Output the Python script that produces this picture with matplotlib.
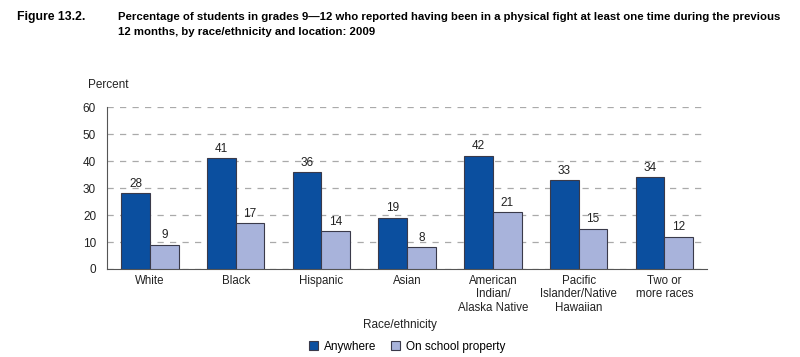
import matplotlib
matplotlib.use("Agg")
import matplotlib.pyplot as plt
import numpy as np

categories = ["White", "Black", "Hispanic", "Asian", "American\nIndian/\nAlaska Native",
              "Pacific\nIslander/Native\nHawaiian", "Two or\nmore races"]
anywhere = [28, 41, 36, 19, 42, 33, 34]
on_school = [9, 17, 14, 8, 21, 15, 12]
yticks = [0, 10, 20, 30, 40, 50, 60]

DARK = "#0b4f9f"
LIGHT = "#a8b3db"
EDGE = "#3a3a4a"

plt.rcParams["font.family"] = ["Liberation Sans", "DejaVu Sans"]

fig = plt.figure(figsize=(8, 3.57), dpi=100)
ax = fig.add_axes([0.134, 0.2465, 0.75, 0.4535])

x = np.arange(len(categories))
w = 0.335
b1 = ax.bar(x - w / 2, anywhere, w, color=DARK, edgecolor=EDGE, linewidth=0.8, label="Anywhere", zorder=3)
b2 = ax.bar(x + w / 2, on_school, w, color=LIGHT, edgecolor=EDGE, linewidth=0.8, label="On school property", zorder=3)

for bars, vals in ((b1, anywhere), (b2, on_school)):
    for r, v in zip(bars, vals):
        ax.text(r.get_x() + r.get_width() / 2, v + 1.2, str(v), ha="center", va="bottom", fontsize=8.5, color="#222222")

ax.set_xlim(-0.5, len(categories) - 0.5)
ax.set_ylim(0, 60)
ax.set_yticks(yticks)
ax.tick_params(axis="y", length=0, labelsize=8.5, pad=8, colors="#222222")
ax.set_xticks(x)
ax.set_xticklabels(categories, fontsize=8.3, linespacing=1.18)
ax.tick_params(axis="x", length=0, pad=4, colors="#222222")
ax.grid(axis="y", linestyle=(0, (5, 5)), color="#aaaaaa", linewidth=0.9, zorder=0)
for s in ("top", "right"):
    ax.spines[s].set_visible(False)
ax.spines["left"].set_color("#555555")
ax.spines["bottom"].set_color("#555555")

fig.text(88 / 800, 1 - 85 / 357, "Percent", fontsize=8.5, va="center", color="#222222")
fig.text(400 / 800, 1 - 325 / 357, "Race/ethnicity", fontsize=8.5, ha="center", va="center", color="#222222")

fig.legend(handles=[b1, b2], loc="center", bbox_to_anchor=(407 / 800, 1 - 347 / 357), ncol=2,
           frameon=False, fontsize=8.5, handlelength=0.8, handleheight=0.8, columnspacing=1.2,
           handletextpad=0.5)

# title: shrink the font so the long line fits the same width as the reference
fig.text(17 / 800, 1 - 17 / 357, "Figure 13.2.", fontsize=8.8, fontweight="bold", va="center")
t1 = fig.text(118 / 800, 1 - 17 / 357,
              "Percentage of students in grades 9\u201412 who reported having been in a physical fight at least one time during the previous",
              fontsize=9, fontweight="bold", va="center")
t2 = fig.text(118 / 800, 1 - 32 / 357, "12 months, by race/ethnicity and location: 2009",
              fontsize=9, fontweight="bold", va="center")
renderer = fig.canvas.get_renderer()
width = t1.get_window_extent(renderer).width
size = 9 * 660 / width
for t in (t1, t2):
    t.set_fontsize(size)

fig.savefig("out.png", dpi=100)
